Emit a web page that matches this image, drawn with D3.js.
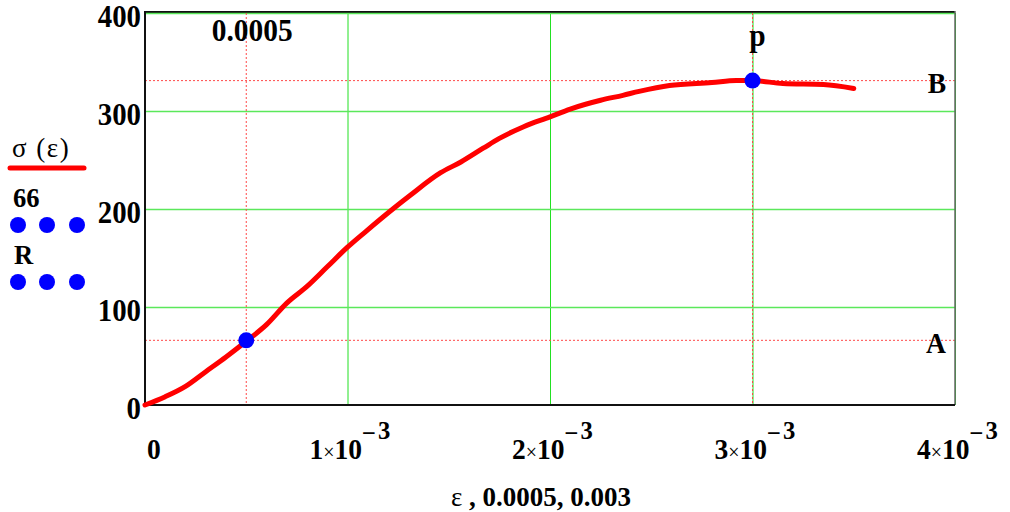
<!DOCTYPE html>
<html>
<head>
<meta charset="utf-8">
<script src="https://cdn.jsdelivr.net/npm/d3@7.9.0/dist/d3.min.js"></script>
<style>
  body { margin: 0; background: white; }
  svg { display: block; font-family: "Liberation Serif", "Times New Roman", serif; }
</style>
</head>
<body>
<div id="chart"></div>
<script>
// stress-strain curve
const strain = [0, 0.0001, 0.0002, 0.0003, 0.0004, 0.0005, 0.0006, 0.0007, 0.0008, 0.0009,
  0.001, 0.00109, 0.00123, 0.00131, 0.00146, 0.00156, 0.00167, 0.00175, 0.00187, 0.002,
  0.0021, 0.00225, 0.00236, 0.00244, 0.00259, 0.0028, 0.00292, 0.003, 0.00315, 0.00335, 0.0035];
const stress = [0, 8.5, 19, 34, 49, 65, 82, 104, 121, 141,
  161, 177, 201, 214, 237, 248, 262, 272, 284, 294,
  302, 311, 316, 320, 326, 329, 331, 331, 328, 327, 323];

const markX = [0.0005, 0.003];
const markY = [66, 331];
const yTicks = [0, 100, 200, 300, 400];
const xTicks = [0, 0.001, 0.002, 0.003, 0.004];
const xTickLabels = ["0", "1", "2", "3", "4"];

const width = 1010, height = 512;
const plot = { left: 145, right: 955, top: 13, bottom: 405 };

const svg = d3.select('#chart').append('svg')
  .attr('width', width).attr('height', height);

const x = d3.scaleLinear().domain([0, 0.004]).range([plot.left, plot.right]);
const y = d3.scaleLinear().domain([0, 400]).range([plot.bottom, plot.top]);

// the Mathcad text looks a bit tall and narrow, so squeeze it sideways
function label(px, py, txt, size, sx, anchor) {
  return svg.append('text')
    .attr('transform', `translate(${px},${py}) scale(${sx},1)`)
    .attr('text-anchor', anchor || 'start')
    .style('font-size', size + 'px')
    .style('font-weight', 'bold')
    .text(txt);
}

// frame top (under the 400 grid line)
svg.append('line').attr('x1', plot.left).attr('x2', plot.right).attr('y1', plot.top - 1).attr('y2', plot.top - 1)
  .attr('stroke', '#111').attr('stroke-width', 2);

// green grid
svg.append('g')
  .attr('transform', `translate(0,${plot.bottom})`)
  .call(d3.axisBottom(x).tickValues(xTicks.slice(1)).tickFormat('').tickSize(-(plot.bottom - plot.top)))
  .call(g => g.select('.domain').remove())
  .call(g => g.selectAll('line').attr('stroke', '#22e022').attr('stroke-width', 1));
svg.append('g')
  .attr('transform', `translate(${plot.left},0)`)
  .call(d3.axisLeft(y).tickValues(yTicks.slice(1)).tickFormat('').tickSize(-(plot.right - plot.left)))
  .call(g => g.select('.domain').remove())
  .call(g => g.selectAll('line').attr('stroke', '#5be85b').attr('stroke-width', 1.6));

// red dotted marker lines
svg.append('g').selectAll('line')
  .data(markY).join('line')
  .attr('x1', plot.left).attr('x2', plot.right)
  .attr('y1', d => y(d)).attr('y2', d => y(d))
  .attr('stroke', '#ff4848').attr('stroke-width', 1).attr('stroke-dasharray', '2,2');
svg.append('g').selectAll('line')
  .data(markX).join('line')
  .attr('y1', plot.top).attr('y2', plot.bottom)
  .attr('x1', d => x(d)).attr('x2', d => x(d))
  .attr('stroke', '#ff4848').attr('stroke-width', 1).attr('stroke-dasharray', '2,2');

// rest of the frame
svg.append('line').attr('x1', plot.right).attr('x2', plot.right).attr('y1', plot.top - 2).attr('y2', plot.bottom)
  .attr('stroke', '#666').attr('stroke-width', 1.5);
svg.append('line').attr('x1', plot.left).attr('x2', plot.left).attr('y1', plot.top - 2).attr('y2', plot.bottom + 1)
  .attr('stroke', '#111').attr('stroke-width', 2);
svg.append('line').attr('x1', plot.left).attr('x2', plot.right).attr('y1', plot.bottom).attr('y2', plot.bottom)
  .attr('stroke', '#111').attr('stroke-width', 2);

// curve
const line = d3.line().x((d, i) => x(strain[i])).y(d => y(d)).curve(d3.curveMonotoneX);
svg.append('path')
  .datum(stress)
  .attr('d', line)
  .attr('fill', 'none')
  .attr('stroke', '#ff0000')
  .attr('stroke-width', 5)
  .attr('stroke-linejoin', 'round')
  .attr('stroke-linecap', 'round');

// blue markers
svg.append('g').selectAll('circle')
  .data(markX).join('circle')
  .attr('cx', d => x(d))
  .attr('cy', (d, i) => y(markY[i]))
  .attr('r', 8)
  .attr('fill', '#0000ff');

// y tick labels
yTicks.forEach(d => label(plot.left - 4, y(d) + 14, d, 32, 0.9, 'end'));

// x tick labels with superscript exponent
xTicks.forEach((d, i) => {
  if (i === 0) { label(x(d) + 2, 459, xTickLabels[i], 29, 0.95); return; }
  const t = label(x(d) - 38, 459, '', 29, 0.95);
  t.append('tspan').text(xTickLabels[i]);
  t.append('tspan').style('font-size', '21px').style('font-weight', 'normal').text('×');
  t.append('tspan').text('10');
  t.append('tspan').attr('dy', -17).style('font-size', '26px').text('−');
  t.append('tspan').attr('dy', -3).attr('dx', 2).style('font-size', '26px').text('3');
});

// axis title
svg.append('text')
  .attr('x', 541).attr('y', 506)
  .attr('text-anchor', 'middle')
  .style('font-size', '27px')
  .style('font-weight', 'bold')
  .html('<tspan font-weight="normal">ε</tspan> , 0.0005, 0.003');

// annotations
label(x(0.0005) + 6, 41, '0.0005', 32, 0.92, 'middle');
label(x(0.003) + 5, 46, 'p', 32, 0.92, 'middle');
label(937, 93, 'B', 30, 0.92, 'middle');
label(936, 353, 'A', 30, 0.92, 'middle');

// legend at left
svg.append('text').attr('x', 12).attr('y', 157)
  .style('font-size', '27px').style('letter-spacing', '1.5px').text('σ (ε)');
svg.append('line').attr('x1', 10).attr('x2', 84).attr('y1', 168).attr('y2', 168)
  .attr('stroke', '#ff0000').attr('stroke-width', 5).attr('stroke-linecap', 'round');
label(13, 207, '66', 28, 0.95);
label(14, 264, 'R', 28, 0.95);
const legendDots = [[18, 225], [47, 225], [77, 225], [18, 282], [47, 282], [77, 282]];
svg.append('g').selectAll('circle')
  .data(legendDots).join('circle')
  .attr('cx', d => d[0]).attr('cy', d => d[1]).attr('r', 8).attr('fill', '#0000ff');
</script>
</body>
</html>
